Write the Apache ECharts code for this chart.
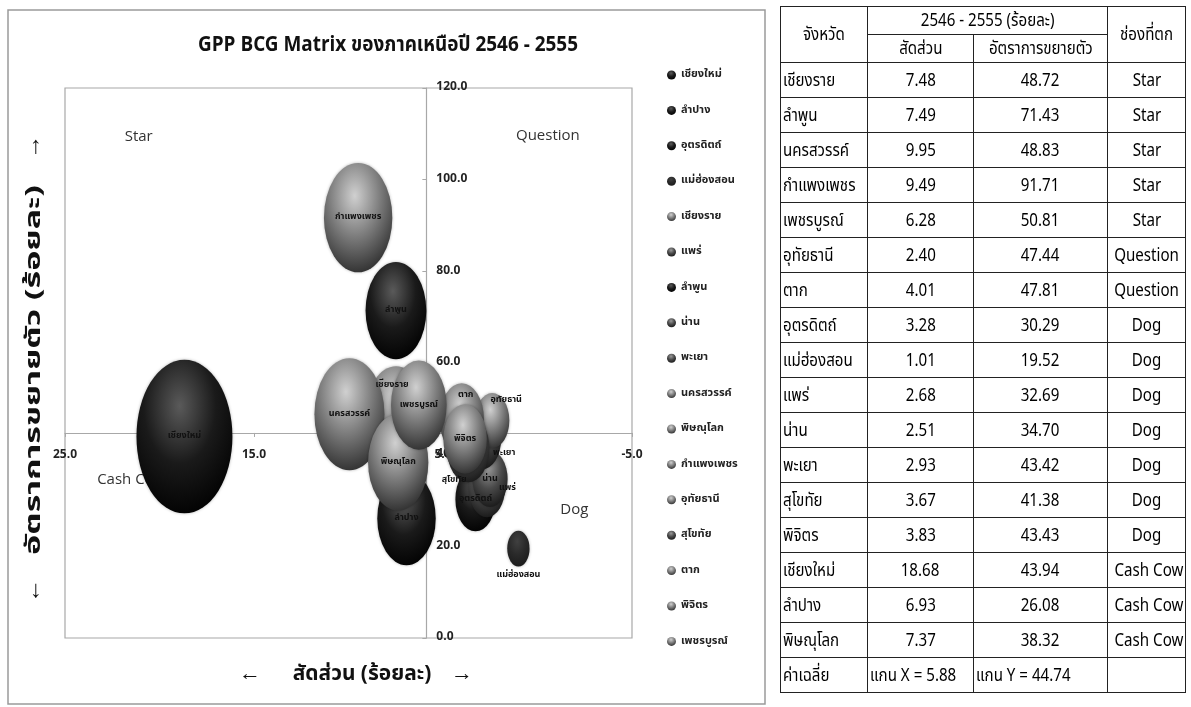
<!DOCTYPE html>
<html>
<head>
<meta charset="utf-8">
<script src="https://cdn.jsdelivr.net/npm/echarts@6/dist/echarts.min.js"></script>
<style>
  html, body { margin: 0; padding: 0; background: #fff; }
  #chart { position: absolute; left: 0; top: 0; width: 1191px; height: 707px; }
  #tbl {
    position: absolute; left: 780px; top: 6px; width: 405px;
    border-collapse: collapse; table-layout: fixed;
    font-family: "Noto Sans Thai", Tahoma, sans-serif;
    font-size: 18px; color: #000;
  }
  #tbl td { border: 1.5px solid #222; padding: 0; height: 34px; text-align: center; white-space: nowrap; overflow: hidden; }
  #tbl tr.h td { height: 27px; }
  #tbl td span { display: inline-block; transform: scaleX(0.84); transform-origin: center; }
  #tbl td.name { text-align: left; padding-left: 2px; }
  #tbl td.name span { transform-origin: left center; }
</style>
</head>
<body>
<div id="chart"></div>
<table id="tbl"></table>
<script>
// table rows (order as in the table)
const tableProvinces = ['เชียงราย', 'ลำพูน', 'นครสวรรค์', 'กำแพงเพชร', 'เพชรบูรณ์', 'อุทัยธานี', 'ตาก', 'อุตรดิตถ์', 'แม่ฮ่องสอน', 'แพร่', 'น่าน', 'พะเยา', 'สุโขทัย', 'พิจิตร', 'เชียงใหม่', 'ลำปาง', 'พิษณุโลก'];
const tableShare = [7.48, 7.49, 9.95, 9.49, 6.28, 2.40, 4.01, 3.28, 1.01, 2.68, 2.51, 2.93, 3.67, 3.83, 18.68, 6.93, 7.37];
const tableGrowth = [48.72, 71.43, 48.83, 91.71, 50.81, 47.44, 47.81, 30.29, 19.52, 32.69, 34.70, 43.42, 41.38, 43.43, 43.94, 26.08, 38.32];
const tableQuadrant = ['Star', 'Star', 'Star', 'Star', 'Star', 'Question', 'Question', 'Dog', 'Dog', 'Dog', 'Dog', 'Dog', 'Dog', 'Dog', 'Cash Cow', 'Cash Cow', 'Cash Cow'];
const avgX = 5.88;
const avgY = 44.74;

// series order in the chart legend
const legendProvinces = ['เชียงใหม่', 'ลำปาง', 'อุตรดิตถ์', 'แม่ฮ่องสอน', 'เชียงราย', 'แพร่', 'ลำพูน', 'น่าน', 'พะเยา', 'นครสวรรค์', 'พิษณุโลก', 'กำแพงเพชร', 'อุทัยธานี', 'สุโขทัย', 'ตาก', 'พิจิตร', 'เพชรบูรณ์'];

const xTicks = [-5, 5, 15, 25];

// grey shade of each bubble: [highlight, body, rim]
const DARK = ['#5a5a5a', '#1a1a1a', '#000000'];
const MID = ['#9a9a9a', '#4a4a4a', '#151515'];
const LIGHT = ['#d0d0d0', '#7c7c7c', '#2a2a2a'];
const shades = {
  'เชียงใหม่': DARK, 'ลำปาง': DARK, 'อุตรดิตถ์': DARK, 'แม่ฮ่องสอน': ['#404040', '#2a2a2a', '#1a1a1a'],
  'เชียงราย': LIGHT, 'แพร่': MID, 'ลำพูน': DARK, 'น่าน': MID, 'พะเยา': MID,
  'นครสวรรค์': LIGHT, 'พิษณุโลก': LIGHT, 'กำแพงเพชร': LIGHT, 'อุทัยธานี': LIGHT,
  'สุโขทัย': MID, 'ตาก': LIGHT, 'พิจิตร': LIGHT, 'เพชรบูรณ์': LIGHT
};

// label placement tweaks
const labelTweak = {
  'แม่ฮ่องสอน': { position: 'bottom', distance: 4 },
  'เชียงราย': { position: 'inside', offset: [-4, -30] },
  'ตาก': { position: 'inside', offset: [4, -24] },
  'อุทัยธานี': { position: 'inside', offset: [14, -20] },
  'แพร่': { position: 'right', distance: -6 },
  'พะเยา': { position: 'right', distance: -8, offset: [0, 14] },
  'สุโขทัย': { position: 'inside', offset: [-14, 32] }
};

// quadrant captions, placed in data space
const quadrantNames = ['Star', 'Question', 'Cash Cow', 'Dog'];
const quadrantAt = [[21.1, 109.4, 'center'], [-0.55, 109.6, 'center'], [23.3, 34.5, 'left'], [-1.95, 27.9, 'center']];

const FONT = '"Noto Sans Thai", Tahoma, sans-serif';

// ---------- table ----------
const cell = (t, cls) => '<td' + (cls ? ' class="' + cls + '"' : '') + '><span>' + t + '</span></td>';
const tbl = document.getElementById('tbl');
let html = '<colgroup><col style="width:87px"><col style="width:106px"><col style="width:134px"><col style="width:78px"></colgroup>';
html += '<tr class="h"><td rowspan="2"><span>จังหวัด</span></td><td colspan="2"><span>2546 - 2555 (ร้อยละ)</span></td><td rowspan="2"><span>ช่องที่ตก</span></td></tr>';
html += '<tr class="h">' + cell('สัดส่วน') + cell('อัตราการขยายตัว') + '</tr>';
tableProvinces.forEach((p, i) => {
  html += '<tr>' + cell(p, 'name') + cell(tableShare[i].toFixed(2)) + cell(tableGrowth[i].toFixed(2)) + cell(tableQuadrant[i]) + '</tr>';
});
html += '<tr>' + cell('ค่าเฉลี่ย', 'name') + cell('แกน X = ' + avgX.toFixed(2), 'name') +
  cell('แกน Y = ' + avgY.toFixed(2), 'name') + '<td></td></tr>';
tbl.innerHTML = html;

// ---------- chart ----------
const grid = { left: 65, top: 88, width: 567, height: 550 };
const chart = echarts.init(document.getElementById('chart'), null, { renderer: 'canvas' });

const bubbleSeries = legendProvinces.map((name) => {
  const i = tableProvinces.indexOf(name);
  const s = shades[name];
  const tweak = labelTweak[name] || { position: 'inside' };
  return {
    name: name,
    type: 'scatter',
    zlevel: 1,
    data: [[tableShare[i], tableGrowth[i], tableShare[i]]],
    symbol: 'circle',
    symbolSize: (v) => {
      const w = 22.2 * Math.sqrt(v[2]);
      return [w, w * 1.6];
    },
    itemStyle: {
      opacity: 1,
      color: {
        type: 'radial', x: 0.45, y: 0.3, r: 0.75,
        colorStops: [{ offset: 0, color: s[0] }, { offset: 0.5, color: s[1] }, { offset: 1, color: s[2] }]
      },
      shadowBlur: 3, shadowColor: 'rgba(0,0,0,0.3)'
    },
    label: Object.assign({
      show: true, formatter: name, color: '#111', fontSize: 9,
      fontWeight: 'bold', fontFamily: FONT
    }, tweak)
  };
});

const baseGraphic = [
  { type: 'rect', shape: { x: 8, y: 10, width: 757, height: 694 }, style: { fill: 'none', stroke: '#9a9a9a', lineWidth: 1.5 }, silent: true },
  { type: 'text', x: 388, y: 47, scaleX: 0.86, style: { text: 'GPP BCG Matrix ของภาคเหนือปี 2546 - 2555', fill: '#111', font: 'bold 22px ' + FONT, align: 'center', verticalAlign: 'middle' } },
  { type: 'text', x: 250, y: 676, style: { text: '←', fill: '#111', font: 'bold 22px ' + FONT, align: 'center', verticalAlign: 'middle' } },
  { type: 'text', x: 362, y: 676, scaleX: 0.95, style: { text: 'สัดส่วน (ร้อยละ)', fill: '#111', font: 'bold 22px ' + FONT, align: 'center', verticalAlign: 'middle' } },
  { type: 'text', x: 462, y: 676, style: { text: '→', fill: '#111', font: 'bold 22px ' + FONT, align: 'center', verticalAlign: 'middle' } },
  { type: 'text', x: 36, y: 370, rotation: Math.PI / 2, scaleX: 1.55, style: { text: 'อัตราการขยายตัว (ร้อยละ)', fill: '#111', font: 'bold 22px ' + FONT, align: 'center', verticalAlign: 'middle' } },
  { type: 'text', x: 36, y: 148, style: { text: '↑', fill: '#111', font: '24px ' + FONT, align: 'center', verticalAlign: 'middle' } },
  { type: 'text', x: 36, y: 592, style: { text: '↓', fill: '#111', font: '24px ' + FONT, align: 'center', verticalAlign: 'middle' } }
];

const option = {
  backgroundColor: '#fff',
  animation: false,
  legend: {
    data: legendProvinces,
    orient: 'vertical',
    left: 662, top: 63,
    icon: 'circle', itemWidth: 9, itemHeight: 9, itemGap: 21.4,
    textStyle: { fontSize: 11, fontWeight: 'bold', color: '#222', lineHeight: 14, fontFamily: FONT }
  },
  grid: Object.assign({ show: true, borderColor: '#a8a8a8', borderWidth: 1.2 }, grid),
  xAxis: {
    type: 'value', min: -5, max: 25, inverse: true,
    position: 'bottom',
    axisLine: { show: true, lineStyle: { color: '#a8a8a8', width: 1.2 } },
    axisTick: { show: true, customValues: xTicks, length: 4, lineStyle: { color: '#a8a8a8' } },
    axisLabel: {
      customValues: xTicks, margin: 17, color: '#222', fontSize: 12, fontWeight: 'bold',
      fontFamily: FONT, formatter: (v) => v.toFixed(1)
    },
    splitLine: { show: false }
  },
  yAxis: {
    type: 'value', min: 0, max: 120, interval: 20,
    position: 'left',
    axisLine: { show: true, lineStyle: { color: '#a8a8a8', width: 1.2 } },
    axisTick: { show: true, length: 4, lineStyle: { color: '#a8a8a8' } },
    axisLabel: {
      inside: true, margin: 10, color: '#222', fontSize: 12, fontWeight: 'bold',
      fontFamily: FONT, formatter: (v) => v.toFixed(1)
    },
    splitLine: { show: false }
  },
  graphic: baseGraphic,
  series: bubbleSeries
};

chart.setOption(option);

// move the axes so they cross at the averages, and put the quadrant captions under the bubbles
const cx = chart.convertToPixel({ xAxisIndex: 0 }, avgX);
const cy = chart.convertToPixel({ yAxisIndex: 0 }, avgY);
const captions = quadrantNames.map((t, k) => {
  const p = chart.convertToPixel({ gridIndex: 0 }, quadrantAt[k].slice(0, 2));
  return {
    type: 'text', x: p[0], y: p[1], silent: true,
    style: { text: t, fill: '#333', font: '15px "Open Sans", sans-serif', align: quadrantAt[k][2], verticalAlign: 'middle' }
  };
});
chart.setOption({
  yAxis: { offset: -(cx - grid.left) },
  xAxis: { offset: -(grid.top + grid.height - cy) },
  graphic: baseGraphic.concat(captions)
}, { replaceMerge: ['graphic'] });
</script>
</body>
</html>
